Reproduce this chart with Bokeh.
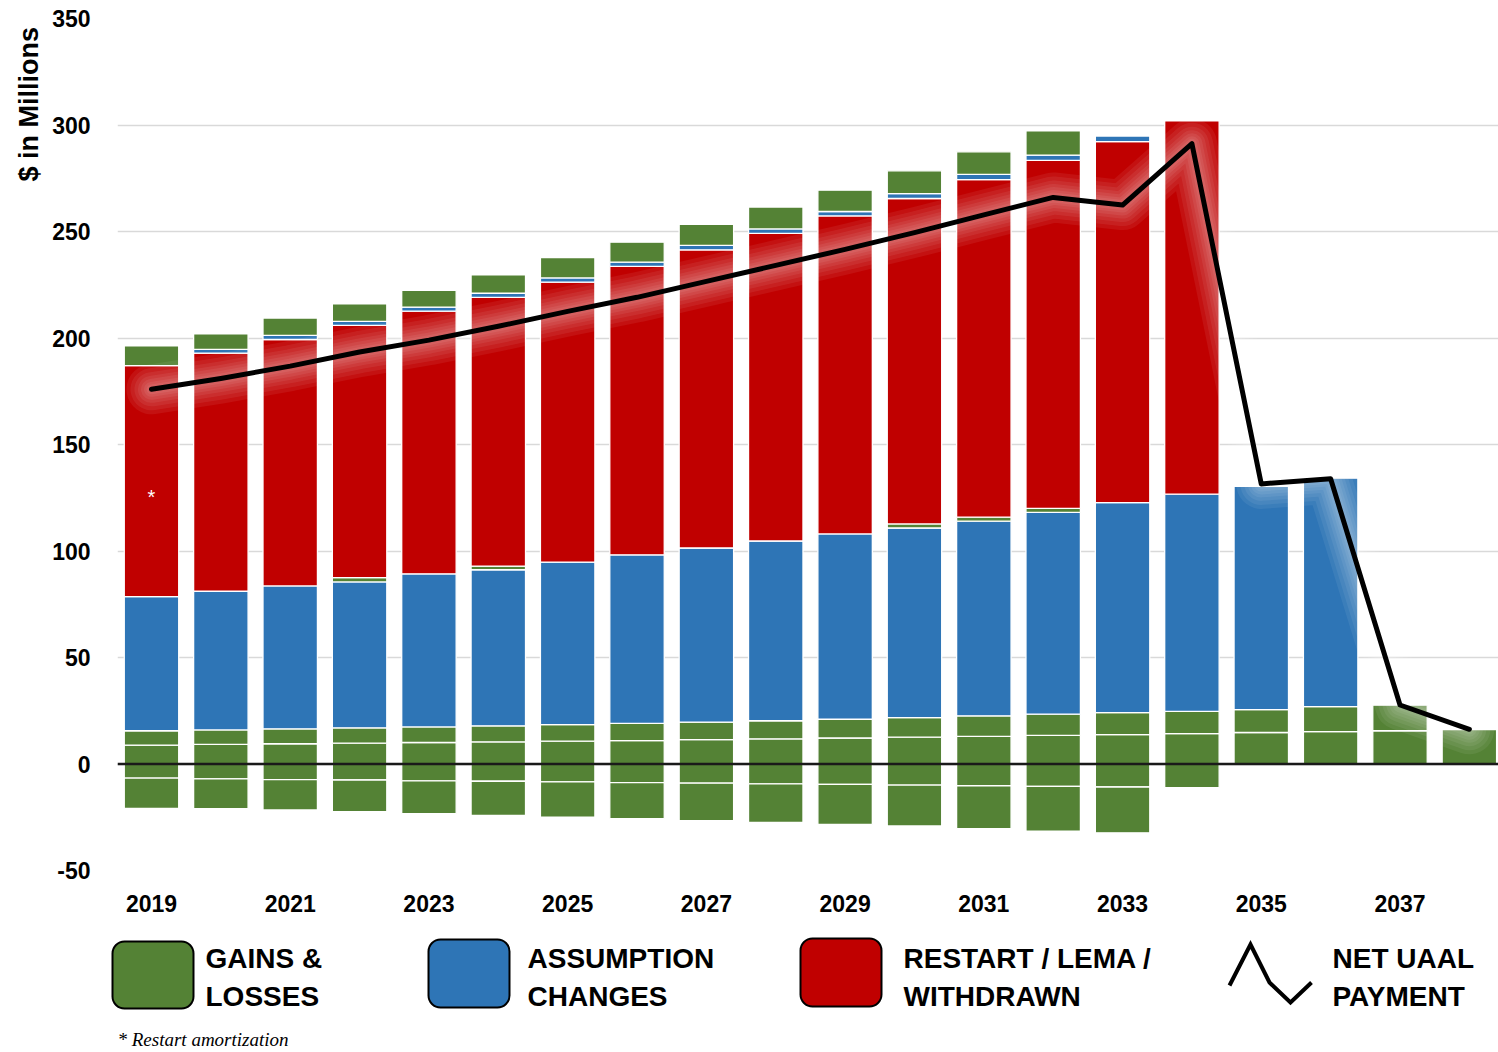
import numpy as np
from bokeh.plotting import figure
from bokeh.models import Range1d, FixedTicker, Span, Label, ColumnDataSource
from bokeh.layouts import column, row
from bokeh.core.properties import value
from bokeh.embed import file_html
from bokeh.resources import INLINE

# ---------------- data ($ millions) ----------------
years = list(range(2019, 2039))
tick_years = [2019, 2021, 2023, 2025, 2027, 2029, 2031, 2033, 2035, 2037]
y_ticks = [-50, 0, 50, 100, 150, 200, 250, 300, 350]
y_tick_labels = ["-50", "0", "50", "100", "150", "200", "250", "300", "350"]

# gains & losses layers (positive, stacked from zero)
gl_base1 = [8.9, 9.2, 9.5, 9.8, 10.1, 10.4, 10.7, 11.0, 11.4, 11.8, 12.2, 12.6, 13.0, 13.4, 13.8, 14.3, 14.8, 15.2, 15.6, 16.2]
gl_base2 = [6.7, 6.8, 7.0, 7.2, 7.3, 7.5, 7.8, 8.1, 8.3, 8.5, 8.8, 9.2, 9.6, 10.0, 10.3, 10.4, 10.7, 11.7, 12.0, 0]
# assumption changes (main layer)
assump_main = [63.0, 65.1, 67.1, 68.5, 71.9, 73.3, 76.3, 79.1, 81.7, 84.4, 87.0, 89.0, 91.4, 94.7, 98.6, 102.0, 104.8, 107.3, 0, 0]
# thin gains & losses layer above assumption changes
gl_thin = [0, 0, 0, 2.0, 0, 1.7, 0, 0, 0, 0, 0, 1.9, 1.9, 1.9, 0, 0, 0, 0, 0, 0]
# restart / LEMA / withdrawn
restart = [108.4, 111.8, 115.7, 118.4, 123.3, 126.2, 131.4, 135.4, 140.0, 144.4, 149.3, 152.8, 158.5, 163.4, 169.5, 175.2, 0, 0, 0, 0]
# thin assumption-change layer above restart
assump_thin = [0, 1.8, 1.9, 1.9, 1.9, 1.9, 2.0, 2.0, 2.1, 2.1, 2.1, 2.3, 2.4, 2.5, 2.6, 0, 0, 0, 0, 0]
# top gains & losses layer
gl_top = [9.3, 7.2, 8.2, 8.2, 7.9, 8.6, 9.5, 9.4, 9.8, 10.3, 10.0, 10.7, 10.6, 11.3, 0, 0, 0, 0, 0, 0]
# negative gains & losses layers (stacked down from zero)
gl_neg1 = [-6.6, -7.0, -7.3, -7.5, -7.9, -8.1, -8.4, -8.7, -9.0, -9.3, -9.6, -9.9, -10.2, -10.5, -10.8, -11.1, 0, 0, 0, 0]
gl_neg2 = [-14.2, -14.0, -14.3, -14.9, -15.4, -16.0, -16.5, -17.0, -17.6, -18.1, -18.7, -19.2, -20.1, -21.0, -21.5, 0, 0, 0, 0, 0]
# net UAAL payment
net_uaal = [175.9, 181.0, 186.8, 193.4, 199.0, 205.5, 212.5, 219.1, 226.6, 234.1, 241.6, 249.5, 257.8, 266.0, 262.4, 291.2, 131.5, 133.9, 27.7, 16.3]

GREEN = "#548235"
BLUE = "#2E75B6"
RED = "#C00000"
FONT = "Liberation Sans"

TOP_H = 925
STRIP_W = 45

# ---------------- left strip with the axis title ----------------
s = figure(width=STRIP_W, height=TOP_H, output_backend="svg", toolbar_location=None,
           x_range=Range1d(0, STRIP_W), y_range=Range1d(TOP_H, 0),
           x_axis_type=None, y_axis_type=None, min_border=0)
s.outline_line_color = None
s.xgrid.grid_line_color = None
s.ygrid.grid_line_color = None
s.text(x=[28], y=[93], text=["$ in Millions"], angle=np.pi / 2, text_font=value(FONT),
       text_font_style="bold", text_font_size="27px", text_align="center",
       text_baseline="middle", text_color="black")

# ---------------- main chart ----------------
p = figure(width=1498 - STRIP_W, height=TOP_H, output_backend="svg", toolbar_location=None,
           x_range=Range1d(2018.51, 2038.42), y_range=Range1d(-50, 350),
           min_border_left=117 - STRIP_W, min_border_right=0, min_border_top=18,
           min_border_bottom=TOP_H - 870)
p.outline_line_color = None
p.background_fill_color = "white"
p.border_fill_color = "white"
p.xgrid.grid_line_color = None
p.ygrid.grid_line_color = "#D9D9D9"
p.ygrid.grid_line_width = 1.6

pos_layers = [(gl_base1, GREEN), (gl_base2, GREEN), (assump_main, BLUE), (gl_thin, GREEN),
              (restart, RED), (assump_thin, BLUE), (gl_top, GREEN)]
neg_layers = [(gl_neg1, GREEN), (gl_neg2, GREEN)]

BAR_W = 0.785

def draw_stack(layers):
    base = np.zeros(len(years))
    for vals, col in layers:
        v = np.array(vals, dtype=float)
        top = base + v
        mask = v != 0
        src = ColumnDataSource(dict(x=np.array(years)[mask], bottom=base[mask], top=top[mask]))
        p.vbar(x="x", bottom="bottom", top="top", width=BAR_W, source=src,
               fill_color=col, line_color="white", line_width=1.3)
        base = top

draw_stack(pos_layers)
draw_stack(neg_layers)

# soft glow around the net line
for w in [50, 42, 34, 27, 21, 15, 10]:
    p.line(years, net_uaal, line_color="white", line_alpha=0.065, line_width=w,
           line_join="round", line_cap="round")

p.add_layout(Span(location=0, dimension="width", line_color="#1a1a1a", line_width=2.6))

p.line(years, net_uaal, line_color="black", line_width=5, line_join="round", line_cap="round")

# axes
p.yaxis.ticker = FixedTicker(ticks=y_ticks)
p.yaxis.major_label_overrides = {t: lab for t, lab in zip(y_ticks, y_tick_labels)}
p.xaxis.ticker = FixedTicker(ticks=tick_years)
for ax in (p.xaxis, p.yaxis):
    ax.axis_line_color = None
    ax.major_tick_line_color = None
    ax.minor_tick_line_color = None
    ax.major_label_text_font = FONT
    ax.major_label_text_font_style = "bold"
    ax.major_label_text_font_size = "23px"
    ax.major_label_text_color = "black"
p.yaxis.major_label_standoff = 21
p.xaxis.major_label_standoff = 18

p.add_layout(Label(x=2019, y=125.4, text="*", text_font=FONT,
                   text_font_size="20px", text_align="center", text_baseline="middle",
                   text_color="white"))

# ---------------- legend strip ----------------
q = figure(width=1498, height=1052 - TOP_H, output_backend="svg", toolbar_location=None,
           x_range=Range1d(0, 1498), y_range=Range1d(1052, TOP_H),
           x_axis_type=None, y_axis_type=None, min_border=0)
q.outline_line_color = None
q.xgrid.grid_line_color = None
q.ygrid.grid_line_color = None

leg_left = [112, 428, 800]
leg_right = [193, 509, 881]
leg_top = [941, 939, 938]
leg_bottom = [1008, 1007, 1006]
leg_colors = [GREEN, BLUE, RED]
q.quad(left=leg_left, right=leg_right, top=leg_top, bottom=leg_bottom,
       fill_color=leg_colors, line_color="black", line_width=2, border_radius=12)

zig_x = [1229, 1250, 1269, 1290, 1311]
zig_y = [985, 944, 982, 1002, 982]
q.line(zig_x, zig_y, line_color="black", line_width=4, line_join="miter")

leg_text_x = [205, 205, 527, 527, 903, 903, 1332, 1332]
leg_text_y = [958, 996, 958, 996, 958, 996, 958, 996]
leg_text = ["GAINS &", "LOSSES", "ASSUMPTION", "CHANGES", "RESTART / LEMA /", "WITHDRAWN",
            "NET UAAL", "PAYMENT"]
q.text(x=leg_text_x, y=leg_text_y, text=leg_text, text_font=value(FONT),
       text_font_style="bold", text_font_size="28px", text_baseline="alphabetic",
       text_align="left", text_color="black")

q.text(x=[117], y=[1039], text=["* Restart amortization"], text_font=value("Liberation Serif"),
       text_font_style="italic", text_font_size="19px", text_baseline="alphabetic",
       text_align="left", text_color="black")

layout = column(row(s, p, spacing=0), q, spacing=0)
open("out.html", "w").write(file_html(layout, INLINE))
